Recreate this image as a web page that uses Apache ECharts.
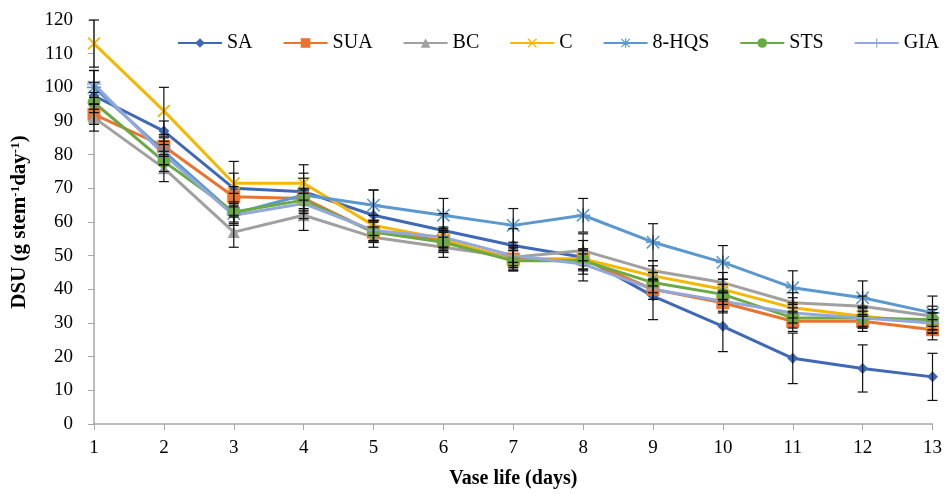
<!DOCTYPE html>
<html>
<head>
<meta charset="utf-8">
<script src="https://cdn.jsdelivr.net/npm/echarts@6/dist/echarts.min.js"></script>
<style>
html, body { margin: 0; padding: 0; background: #fff; }
#main { width: 945px; height: 494px; }
</style>
</head>
<body>
<div id="main"></div>
<script>
var days = ['1','2','3','4','5','6','7','8','9','10','11','12','13'];

var SA    = [97.5, 87, 70, 69, 62, 57.5, 53, 49.5, 38, 29, 19.5, 16.5, 14];
var SUA   = [92, 82.5, 67.5, 67, 57, 54.5, 49, 49, 40, 36, 30.5, 30.5, 28];
var BC    = [91, 76, 57, 62, 55.5, 52.5, 49.5, 51.5, 45.5, 42, 36, 35, 32];
var C     = [113, 93, 71.5, 71.5, 59, 55, 48.5, 49, 44, 40, 34.5, 32, 30];
var HQS   = [100, 81, 62.5, 68, 65, 62, 59, 62, 54, 48, 40.5, 37.5, 33];
var STS   = [95.5, 78, 63, 66.5, 57, 54, 48.5, 48.5, 42, 38.5, 31.5, 31.5, 31];
var GIA   = [101, 80, 62, 65.5, 57.5, 55.5, 50, 47.5, 40, 36.5, 33, 31.5, 30];

// error bar half-widths
var SA_err  = [4, 3, 8, 8, 7.5, 5, 5, 7, 7, 7.5, 7.5, 7, 7];
var SUA_err = [3, 3, 3, 3, 3, 3, 3, 3, 3, 3, 3, 3, 3];
var BC_err  = [4, 4, 4.5, 4.5, 3, 3, 3, 3, 3, 3, 3, 3, 3];
var C_err   = [7, 7, 3, 3, 3, 3, 3, 3, 3, 3, 3, 3, 3];
var HQS_err = [5, 4, 3, 5, 4.5, 5, 5, 5, 5.5, 5, 5, 5, 5];
var STS_err = [3, 3, 3, 3, 3, 3, 3, 3, 3, 3, 3, 3, 3];
var GIA_err = [4, 3, 3, 3, 3, 3, 3, 3, 3, 3, 3, 3, 3];

var names  = ['SA', 'SUA', 'BC', 'C', '8-HQS', 'STS', 'GIA'];
var values = [SA, SUA, BC, C, HQS, STS, GIA];
var errs   = [SA_err, SUA_err, BC_err, C_err, HQS_err, STS_err, GIA_err];
var colors = ['#3F68B5', '#E87431', '#A0A0A0', '#F5B800', '#5A98CF', '#6AAA45', '#93A8DA'];

var xPath = 'path://M1,0L5,4L9,0L10,1L6,5L10,9L9,10L5,6L1,10L0,9L4,5L0,1Z';
var plusPath = 'path://M4.4,0H5.6V4.4H10V5.6H5.6V10H4.4V5.6H0V4.4H4.4Z';
var starPath = 'path://M4.4,0H5.6V4.4H10V5.6H5.6V10H4.4V5.6H0V4.4H4.4Z M1,0.2L5,4.2L9,0.2L9.8,1L5.8,5L9.8,9L9,9.8L5,5.8L1,9.8L0.2,9L4.2,5L0.2,1Z';
var symbols = ['diamond', 'rect', 'triangle', xPath, starPath, 'circle', plusPath];
var sizes = [11, 13, 12, 13, 14, 13, 14];

var font = 'Liberation Serif';

var series = [];
values.forEach(function (v, i) {
    series.push({
        name: names[i],
        type: 'line',
        data: v,
        symbol: symbols[i],
        symbolSize: sizes[i],
        lineStyle: { color: colors[i], width: 3 },
        itemStyle: { color: colors[i] },
        z: 2
    });
});
values.forEach(function (v, i) {
    series.push({
        type: 'custom',
        silent: true,
        z: 3,
        data: v.map(function (y, k) { return [k, y - errs[i][k], y + errs[i][k]]; }),
        encode: { x: 0, y: [1, 2] },
        renderItem: function (params, api) {
            var lo = api.coord([api.value(0), api.value(1)]);
            var hi = api.coord([api.value(0), api.value(2)]);
            var w = 5;
            var st = { stroke: '#111', lineWidth: 1.2 };
            return {
                type: 'group',
                children: [
                    { type: 'line', shape: { x1: lo[0], y1: lo[1], x2: hi[0], y2: hi[1] }, style: st },
                    { type: 'line', shape: { x1: lo[0] - w, y1: lo[1], x2: lo[0] + w, y2: lo[1] }, style: st },
                    { type: 'line', shape: { x1: hi[0] - w, y1: hi[1], x2: hi[0] + w, y2: hi[1] }, style: st }
                ]
            };
        }
    });
});

var chart = echarts.init(document.getElementById('main'));
chart.setOption({
    animation: false,
    textStyle: { fontFamily: font },
    legend: {
        data: names,
        top: 28,
        left: 172,
        itemGap: 30,
        itemWidth: 44,
        itemHeight: 12,
        textStyle: { fontFamily: font, fontSize: 20, color: '#000' }
    },
    grid: { left: 94, right: 11, top: 20, bottom: 68 },
    xAxis: {
        type: 'category',
        data: days,
        boundaryGap: false,
        name: 'Vase life (days)',
        nameLocation: 'middle',
        nameGap: 45,
        nameTextStyle: { fontFamily: font, fontSize: 20, fontWeight: 'bold', color: '#000' },
        axisLine: { lineStyle: { color: '#A6A6A6', width: 1.5 } },
        axisTick: { show: true, length: 6, lineStyle: { color: '#A6A6A6' } },
        axisLabel: { fontFamily: font, fontSize: 19, color: '#000', margin: 15 }
    },
    yAxis: {
        type: 'value',
        min: 0,
        max: 120,
        interval: 10,
        name: 'DSU (g stem{s|-1}day{s|-1})',
        nameLocation: 'middle',
        nameGap: 63,
        nameTextStyle: {
            fontFamily: font, fontSize: 21, fontWeight: 'bold', color: '#000',
            rich: { s: { fontFamily: font, fontSize: 13, fontWeight: 'bold', verticalAlign: 'top', padding: [0, 0, 9, 0] } }
        },
        axisLine: { show: true, lineStyle: { color: '#A6A6A6', width: 1.5 } },
        axisTick: { show: true, length: 6, lineStyle: { color: '#A6A6A6' } },
        splitLine: { show: false },
        axisLabel: { fontFamily: font, fontSize: 19, color: '#000', margin: 21 }
    },
    series: series
});
</script>
</body>
</html>
